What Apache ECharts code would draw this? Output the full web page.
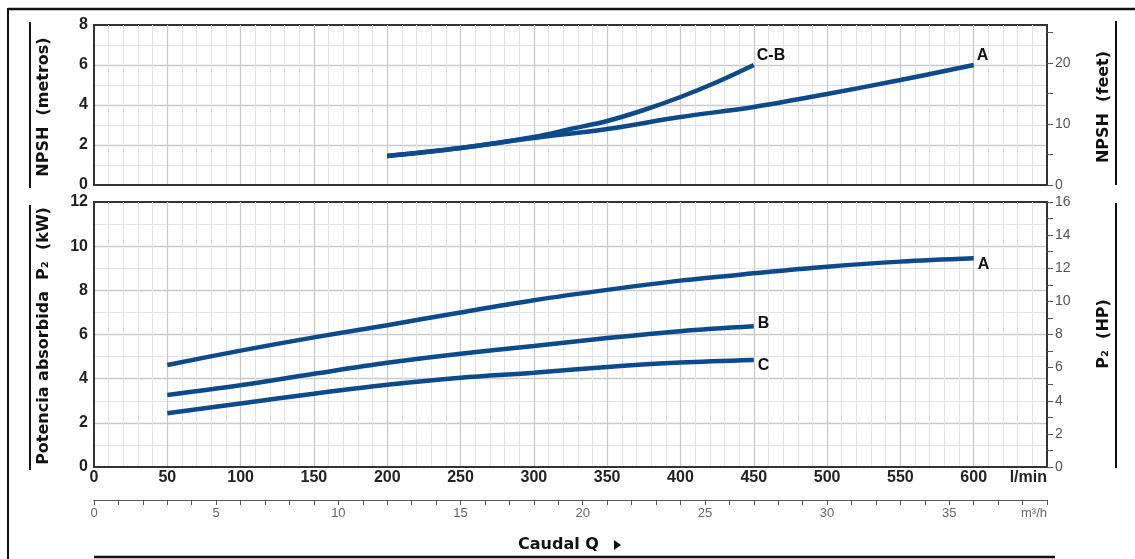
<!DOCTYPE html>
<html>
<head>
<meta charset="utf-8">
<title>Curvas NPSH y P2</title>
<script src="https://cdn.jsdelivr.net/npm/echarts@6/dist/echarts.min.js"></script>
<style>
  html, body { margin: 0; padding: 0; background: #fff; }
  #chart { width: 1135px; height: 559px; }
</style>
</head>
<body>
<div id="chart"></div>
<script>
// Caudal (l/min) and curve values
const flowNpshA = [200, 250, 300, 350, 400, 450, 500, 550, 600];
const npshA = [1.45, 1.85, 2.35, 2.8, 3.4, 3.9, 4.55, 5.25, 6.0];

const flowNpshCB = [200, 250, 300, 325, 350, 375, 400, 425, 450];
const npshCB = [1.45, 1.85, 2.4, 2.8, 3.2, 3.75, 4.4, 5.15, 6.0];

const flowP2A = [50, 100, 150, 200, 250, 300, 350, 400, 450, 500, 550, 600];
const p2A = [4.62, 5.27, 5.87, 6.42, 7.0, 7.55, 8.02, 8.44, 8.77, 9.07, 9.3, 9.45];

const flowP2BC = [50, 100, 150, 200, 250, 300, 350, 400, 450];
const p2B = [3.26, 3.7, 4.22, 4.72, 5.13, 5.48, 5.84, 6.15, 6.37];
const p2C = [2.43, 2.88, 3.32, 3.72, 4.04, 4.27, 4.53, 4.73, 4.85];

// axis texts
const flowUnit = 'l/min';
const flowM3Unit = 'm³/h';
const titleNpshM = 'NPSH  (metros)';
const titleNpshFt = 'NPSH  (feet)';
const titleP2kW = 'Potencia absorbida  P₂  (kW)';
const titleP2HP = 'P₂  (HP)';
const titleCaudal = 'Caudal Q';

const FT_PER_M = 3.28084;
const LINE = '#0b4a8b';
const NARROW = "'Liberation Sans Narrow', 'Liberation Sans', Arial, sans-serif";
const WIDE = "'DejaVu Sans', Verdana, sans-serif";

const zip = (xs, ys) => xs.map((x, i) => [x, ys[i]]);

const majorSplit = { show: true, showMinLine: false, showMaxLine: false, lineStyle: { color: '#c9c9c9', width: 1.3 } };
const minorSplit = { show: true, lineStyle: { color: '#e4e4e4', width: 1 } };
const noMinorTick = n => ({ show: false, splitNumber: n, length: 0, lineStyle: { width: 0, color: 'rgba(0,0,0,0)' } });

function flowAxis(gridIndex, withLabels) {
  return {
    type: 'value', gridIndex, min: 0, max: 650, interval: 50,
    axisLine: { show: true, onZero: false, lineStyle: { color: '#333', width: 2 } },
    axisTick: { show: false },
    minorTick: noMinorTick(5),
    splitLine: majorSplit,
    minorSplitLine: minorSplit,
    axisLabel: withLabels ? {
      show: true, margin: 3, color: '#222', fontFamily: NARROW, fontWeight: 'bold', fontSize: 16,
      alignMaxLabel: 'right',
      formatter: v => (v === 650 ? flowUnit : String(v))
    } : { show: false }
  };
}

function leftAxis(gridIndex, max) {
  return {
    type: 'value', gridIndex, position: 'left', min: 0, max, interval: 2,
    axisLine: { show: true, onZero: false, lineStyle: { color: '#333', width: 2 } },
    axisTick: { show: false },
    minorTick: noMinorTick(2),
    splitLine: majorSplit,
    minorSplitLine: minorSplit,
    axisLabel: { margin: 6, color: '#222', fontFamily: NARROW, fontWeight: 'bold', fontSize: 16 }
  };
}

function rightAxis(gridIndex, max, labelEvery) {
  return {
    type: 'value', gridIndex, position: 'right', min: 0, max,
    interval: labelEvery === 10 ? 5 : 1,
    axisLine: { show: true, onZero: false, lineStyle: { color: '#333', width: 2 } },
    axisTick: { show: true, inside: false, length: 6, lineStyle: { color: '#555', width: 1 } },
    minorTick: { show: false },
    splitLine: { show: false },
    axisLabel: {
      margin: 8, color: '#555', fontFamily: NARROW, fontSize: 14,
      showMaxLabel: labelEvery !== 10,
      formatter: v => (Math.round(v) % labelEvery === 0 && Math.abs(v - Math.round(v)) < 1e-6 ? String(Math.round(v)) : '')
    }
  };
}

function curve(name, xAxisIndex, yAxisIndex, data, offset) {
  return {
    name, type: 'line', xAxisIndex, yAxisIndex, data,
    smooth: 0.35, showSymbol: false, symbol: 'none', z: 5,
    lineStyle: { color: LINE, width: 4.5, cap: 'butt' },
    endLabel: {
      show: true, formatter: '{a}', distance: 3, offset,
      color: '#111', fontFamily: NARROW, fontWeight: 'bold', fontSize: 16
    },
    emphasis: { disabled: true }
  };
}

const chart = echarts.init(document.getElementById('chart'), null, { renderer: 'canvas' });

chart.setOption({
  animation: false,
  backgroundColor: '#fff',
  grid: [
    { left: 94, right: 88, top: 25, height: 160, show: true, borderColor: '#333', borderWidth: 2, backgroundColor: 'transparent' },
    { left: 94, right: 88, top: 202, height: 265, show: true, borderColor: '#333', borderWidth: 2, backgroundColor: 'transparent' }
  ],
  xAxis: [
    flowAxis(0, false),
    flowAxis(1, true),
    {
      type: 'value', gridIndex: 1, position: 'bottom', offset: 33, min: 0, max: 39, interval: 1,
      axisLine: { show: true, onZero: false, lineStyle: { color: '#555', width: 1 } },
      axisTick: { show: true, inside: false, length: 5, lineStyle: { color: '#555', width: 1 } },
      minorTick: { show: false },
      splitLine: { show: false },
      axisLabel: {
        margin: 7, color: '#666', fontFamily: NARROW, fontSize: 13, alignMaxLabel: 'right',
        formatter: v => (v === 39 ? flowM3Unit : (v % 5 === 0 ? String(v) : ''))
      }
    }
  ],
  yAxis: [
    leftAxis(0, 8),
    rightAxis(0, 8 * FT_PER_M, 10),
    leftAxis(1, 12),
    rightAxis(1, 16, 2)
  ],
  series: [
    curve('A', 0, 0, zip(flowNpshA, npshA), [0, -9]),
    curve('C-B', 0, 0, zip(flowNpshCB, npshCB), [0, -9]),
    curve('A', 1, 2, zip(flowP2A, p2A), [1, 6]),
    curve('B', 1, 2, zip(flowP2BC, p2B), [1, -3]),
    curve('C', 1, 2, zip(flowP2BC, p2C), [1, 6])
  ],
  graphic: [
    // outer frame
    { type: 'line', shape: { x1: 8, y1: 9, x2: 1135, y2: 9 }, style: { stroke: '#111', lineWidth: 2.5 } },
    { type: 'line', shape: { x1: 8, y1: 8, x2: 8, y2: 559 }, style: { stroke: '#111', lineWidth: 2 } },
    { type: 'line', shape: { x1: 94, y1: 557, x2: 1055, y2: 557 }, style: { stroke: '#111', lineWidth: 2.5 } },
    // title bars
    { type: 'line', shape: { x1: 30, y1: 22, x2: 30, y2: 188 }, style: { stroke: '#111', lineWidth: 2 } },
    { type: 'line', shape: { x1: 30, y1: 205, x2: 30, y2: 470 }, style: { stroke: '#111', lineWidth: 2 } },
    { type: 'line', shape: { x1: 1116, y1: 21, x2: 1116, y2: 185 }, style: { stroke: '#111', lineWidth: 2 } },
    { type: 'line', shape: { x1: 1116, y1: 203, x2: 1116, y2: 468 }, style: { stroke: '#111', lineWidth: 2 } },
    // axis titles
    { type: 'text', x: 44, y: 107, rotation: Math.PI / 2,
      style: { text: titleNpshM, align: 'center', verticalAlign: 'middle', fill: '#111', font: 'bold 16px ' + WIDE } },
    { type: 'text', x: 44, y: 336, rotation: Math.PI / 2,
      style: { text: titleP2kW, align: 'center', verticalAlign: 'middle', fill: '#111', font: 'bold 16px ' + WIDE } },
    { type: 'text', x: 1104, y: 107, rotation: Math.PI / 2,
      style: { text: titleNpshFt, align: 'center', verticalAlign: 'middle', fill: '#111', font: 'bold 16px ' + WIDE } },
    { type: 'text', x: 1104, y: 334, rotation: Math.PI / 2,
      style: { text: titleP2HP, align: 'center', verticalAlign: 'middle', fill: '#111', font: 'bold 16px ' + WIDE } },
    { type: 'text', x: 518, y: 545,
      style: { text: titleCaudal, align: 'left', verticalAlign: 'middle', fill: '#111', font: 'bold 16px ' + WIDE } },
    { type: 'polygon', shape: { points: [[614, 540], [621, 545], [614, 550]] }, style: { fill: '#111' } }
  ]
});
</script>
</body>
</html>
